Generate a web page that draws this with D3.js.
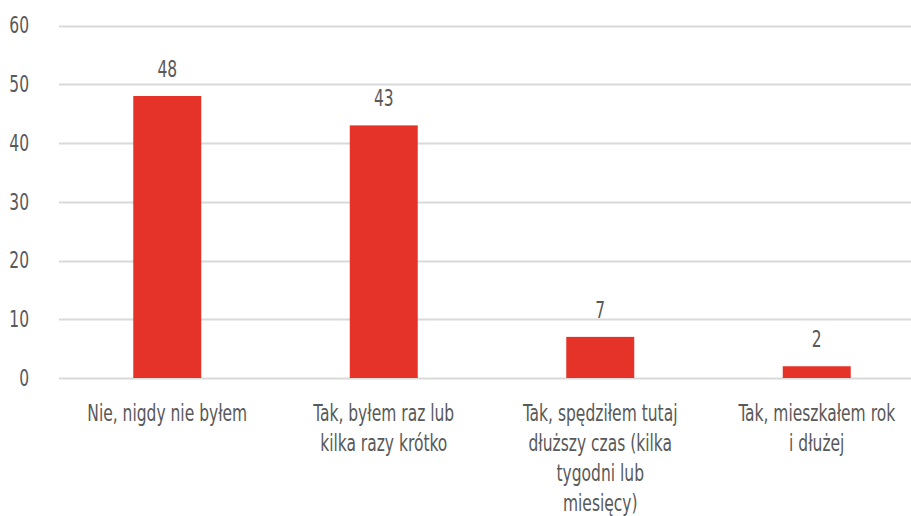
<!DOCTYPE html>
<html>
<head>
<meta charset="utf-8">
<script src="https://cdn.jsdelivr.net/npm/d3@7"></script>
<style>
  body { margin: 0; background: #fff; }
  svg text { font-family: "DejaVu Sans Condensed", "Liberation Sans Narrow", "DejaVu Sans", sans-serif; fill: #595959; }
</style>
</head>
<body>
<script>
// data
var categories = ["Nie, nigdy nie byłem",
                  "Tak, byłem raz lub kilka razy krótko",
                  "Tak, spędziłem tutaj dłuższy czas (kilka tygodni lub miesięcy)",
                  "Tak, mieszkałem rok i dłużej"];
var categoryLines = [["Nie, nigdy nie byłem"],
                     ["Tak, byłem raz lub", "kilka razy krótko"],
                     ["Tak, spędziłem tutaj", "dłuższy czas (kilka", "tygodni lub", "miesięcy)"],
                     ["Tak, mieszkałem rok", "i dłużej"]];
var values = [48, 43, 7, 2];
var yTicks = [0, 10, 20, 30, 40, 50, 60];

var width = 911, height = 516;
var squeeze = 0.75; // narrow the font, reference uses a condensed face
var fs = "23px";

var svg = d3.select("body").append("svg")
            .attr("width", width)
            .attr("height", height);

var x = d3.scaleBand()
          .domain(categories)
          .range([59, 925])
          .paddingInner(0.686)
          .paddingOuter(0.343);

var y = d3.scaleLinear()
          .domain([0, 60])
          .range([378, 25.5]);

function mid(d){ return x(d) + x.bandwidth() / 2; }

// gridlines
svg.append("g").selectAll("line")
   .data(yTicks)
   .enter().append("line")
   .attr("x1", 59)
   .attr("x2", 925)
   .attr("y1", function(d){ return Math.round(y(d)) + 0.5; })
   .attr("y2", function(d){ return Math.round(y(d)) + 0.5; })
   .style("stroke", "#d9d9d9")
   .style("stroke-width", 2);

// y axis labels
var yAxis = d3.axisLeft(y).tickValues(yTicks).tickSize(0).tickPadding(0);
var yg = svg.append("g").attr("transform", "translate(29,0)").call(yAxis);
yg.select(".domain").remove();
yg.selectAll("text")
  .attr("transform", "scale(" + squeeze + ",1)")
  .style("font-size", fs)
  .style("fill", "#595959")
  .style("font-family", null);

// bars
svg.append("g").selectAll("rect")
   .data(values)
   .enter().append("rect")
   .attr("x", function(d, i){ return x(categories[i]); })
   .attr("y", function(d){ return y(d); })
   .attr("width", x.bandwidth())
   .attr("height", function(d){ return y(0) - y(d); })
   .style("fill", "#e5332a");

// value labels
svg.append("g").selectAll("text")
   .data(values)
   .enter().append("text")
   .attr("transform", function(d, i){
      return "translate(" + mid(categories[i]) + "," + (y(d) - 19) + ") scale(" + squeeze + ",1)";
   })
   .attr("text-anchor", "middle")
   .style("font-size", fs)
   .text(function(d){ return d; });

// category labels
var cat = svg.append("g").selectAll("text")
   .data(categories)
   .enter().append("text")
   .attr("text-anchor", "middle")
   .attr("transform", function(d){ return "translate(" + mid(d) + ",421) scale(" + squeeze + ",1)"; })
   .style("font-size", fs);

cat.each(function(d, i){
  var t = d3.select(this);
  categoryLines[i].forEach(function(line, j){
    t.append("tspan")
     .attr("x", 0)
     .attr("dy", j == 0 ? 0 : 30)
     .text(line);
  });
});
</script>
</body>
</html>
